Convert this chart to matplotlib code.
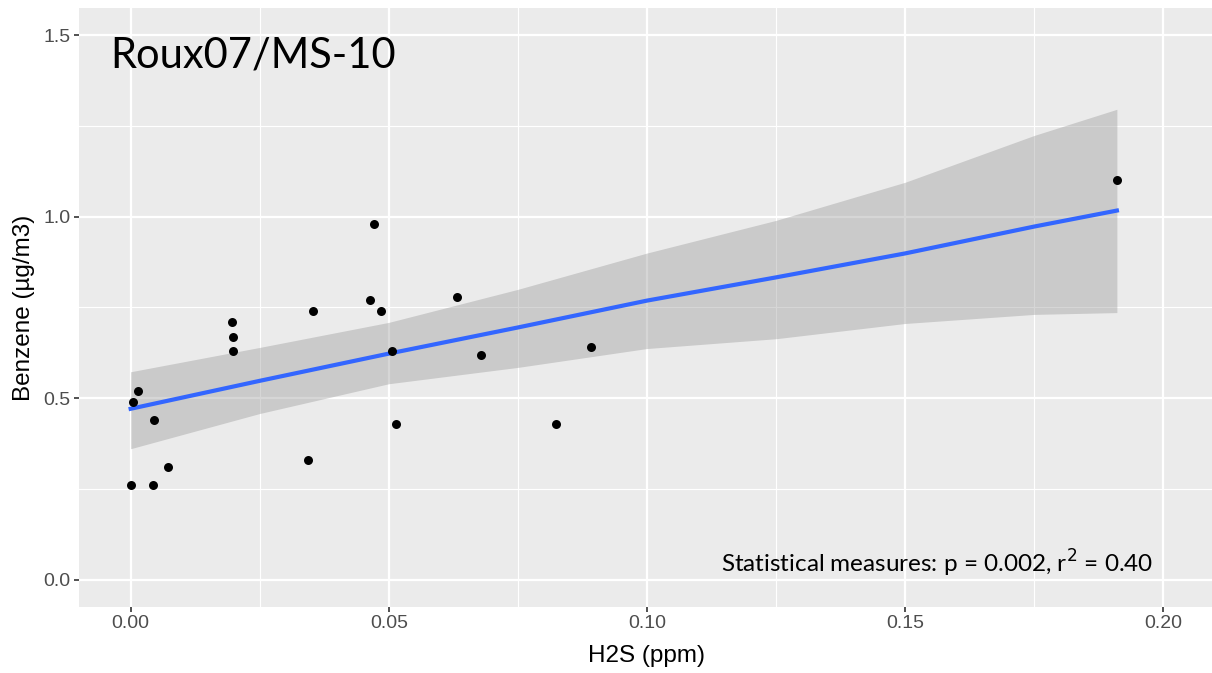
import numpy as np
import matplotlib.pyplot as plt
from matplotlib.ticker import MultipleLocator

# Points
h2s = [0.0000, 0.0004, 0.0014, 0.0043, 0.0046, 0.0072, 0.0197, 0.0199, 0.0199,
       0.0343, 0.0354, 0.0463, 0.0472, 0.0484, 0.0507, 0.0513, 0.0633, 0.0678,
       0.0823, 0.0891, 0.1910]
benzene = [0.26, 0.49, 0.52, 0.26, 0.44, 0.31, 0.71, 0.67, 0.63,
           0.33, 0.74, 0.77, 0.98, 0.74, 0.63, 0.43, 0.78, 0.62,
           0.43, 0.64, 1.10]

# Regression line and 95% band
fit_x = [0.0, 0.025, 0.05, 0.075, 0.10, 0.125, 0.15, 0.175, 0.191]
fit_y = [0.471, 0.548, 0.623, 0.695, 0.769, 0.833, 0.899, 0.973, 1.017]
fit_hi = [0.573, 0.640, 0.709, 0.800, 0.900, 0.990, 1.095, 1.224, 1.296]
fit_lo = [0.361, 0.458, 0.540, 0.585, 0.637, 0.664, 0.706, 0.731, 0.736]

plt.rcParams['font.family'] = ['Liberation Sans', 'DejaVu Sans']
fig = plt.figure(figsize=(12.12, 6.73), dpi=100)
ax = fig.add_axes([79 / 1212, 66 / 673, (1215 - 79) / 1212, (607 - 8) / 673])
ax.set_facecolor('#EBEBEB')

ax.fill_between(fit_x, fit_lo, fit_hi, color='#999999', alpha=0.4, lw=0, zorder=2)
ax.plot(fit_x, fit_y, color='#3366FF', lw=3, zorder=3)
ax.scatter(h2s, benzene, s=42, color='black', zorder=4, linewidths=0)

ax.set_xlim(-0.01, 0.21)
ax.set_ylim(-0.075, 1.575)
ax.xaxis.set_major_locator(MultipleLocator(0.05))
ax.xaxis.set_minor_locator(MultipleLocator(0.025))
ax.yaxis.set_major_locator(MultipleLocator(0.5))
ax.yaxis.set_minor_locator(MultipleLocator(0.25))
ax.xaxis.set_major_formatter(lambda v, p: f'{v:.2f}')
ax.yaxis.set_major_formatter(lambda v, p: f'{v:.1f}')
ax.grid(which='major', color='white', lw=1.6, zorder=1)
ax.grid(which='minor', color='white', lw=0.8, zorder=1)
ax.set_axisbelow(True)
for sp in ax.spines.values():
    sp.set_visible(False)
ax.tick_params(which='major', length=3.6, width=1.2, color='#333333',
               labelcolor='#4D4D4D', labelsize=14, pad=2.5)
ax.tick_params(which='minor', length=0)

ax.set_xlabel('H2S (ppm)', fontsize=17.5, color='black', labelpad=9)
ax.set_ylabel('Benzene (µg/m3)', fontsize=17.5, color='black', labelpad=6)

ax.text(-0.0039, 1.445, 'Roux07/MS-10', fontsize=30, family=['Lato', 'DejaVu Sans'],
        va='center', ha='left')
ax.text(0.198, 0.019, r'Statistical measures: p = 0.002, r$^{2}$ = 0.40',
        fontsize=17.5, family=['Lato', 'DejaVu Sans'], ha='right', va='baseline')

fig.savefig('out.png', dpi=100)
